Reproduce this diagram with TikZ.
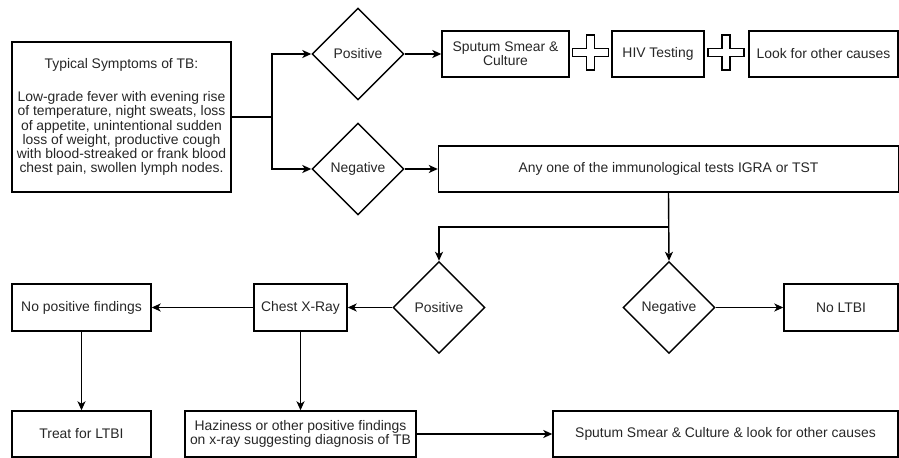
\documentclass[tikz,border=0pt]{standalone}
\usepackage{fontspec}
\setmainfont{Liberation Sans}
\usetikzlibrary{shapes.geometric,arrows.meta}
\tikzset{
  every node/.style={font=\fontsize{13.9bp}{14.3bp}\selectfont, text=black!85},
  box/.style={draw, line width=1.4bp, inner sep=1bp, align=center},
  dia/.style={draw, diamond, line width=1.4bp, inner sep=0pt, minimum width=92bp, minimum height=92bp, aspect=1},
  arr/.style={draw, line width=1.4bp, -{Stealth[length=9bp,width=8bp,inset=2.5bp]}},
  ln/.style={draw, line width=1.4bp},
  plusbox/.style={draw, line width=1.3bp}
}
\newcommand{\plusmark}[2]{%
  \draw[plusbox] (#1-18,#2-4) -- (#1-4,#2-4) -- (#1-4,#2-17.5) -- (#1+4,#2-17.5) -- (#1+4,#2-4) -- (#1+18,#2-4)
   -- (#1+18,#2+4) -- (#1+4,#2+4) -- (#1+4,#2+17.5) -- (#1-4,#2+17.5) -- (#1-4,#2+4) -- (#1-18,#2+4) -- cycle;}
\begin{document}
\begin{tikzpicture}[x=1bp,y=-1bp]
\useasboundingbox (0,0) rectangle (899,458);
% top row
\node[box, minimum width=219bp, minimum height=150bp] (sym) at (121.5,117) {Typical Symptoms of TB:\\[19bp]Low-grade fever with evening rise\\of temperature, night sweats, loss\\of appetite, unintentional sudden\\loss of weight, productive cough\\with blood-streaked or frank blood\\chest pain, swollen lymph nodes.};
\node[dia] (pos1) at (358,54) {Positive};
\node[dia] (neg1) at (358,169) {Negative};
\node[box, minimum width=127bp, minimum height=46bp] (spu) at (505.5,54) {Sputum Smear \&\\Culture};
\node[box, minimum width=92bp, minimum height=46bp] (hiv) at (658,54) {HIV Testing};
\node[box, minimum width=149bp, minimum height=46bp] (look) at (823.5,54) {Look for other causes};
\plusmark{590.5}{52.5}
\plusmark{726}{52.5}
\node[box, minimum width=460bp, minimum height=46bp] (any) at (668.5,169) {Any one of the immunological tests IGRA or TST};
% middle row
\node[dia] (pos2) at (439,307.5) {Positive};
\node[dia] (neg2) at (669,307.5) {Negative};
\node[box, minimum width=114bp, minimum height=47bp] (noltbi) at (841,307.5) {No LTBI};
\node[box, minimum width=93bp, minimum height=47bp] (cxr) at (300.5,307.5) {Chest X-Ray};
\node[box, minimum width=139bp, minimum height=47bp] (npf) at (81.5,307.5) {No positive findings};
% bottom row
\node[box, minimum width=139bp, minimum height=46bp] (treat) at (81.5,434) {Treat for LTBI};
\node[box, minimum width=231bp, minimum height=46bp] (haz) at (300.5,434) {Haziness or other positive findings\\on x-ray suggesting diagnosis of TB};
\node[box, minimum width=345bp, minimum height=46bp] (fin) at (725.5,434) {Sputum Smear \& Culture \& look for other causes};
% connectors
\coordinate (j1) at (272,117);
\coordinate (j2) at (668.5,227);
\draw[ln] (sym.east) -- (j1);
\draw[arr] (j1) |- (pos1.west);
\draw[arr] (j1) |- (neg1.west);
\draw[arr] (pos1.east) -- (spu.west);
\draw[arr] (neg1.east) -- (any.west);
\draw[arr] (any.south) -- (neg2.north);
\draw[arr] (j2) -| (pos2.north);
\draw[arr] (neg2.east) -- (noltbi.west);
\draw[arr] (pos2.west) -- (cxr.east);
\draw[arr] (cxr.west) -- (npf.east);
\draw[arr] (npf.south) -- (treat.north);
\draw[arr] (cxr.south) -- (haz.north);
\draw[arr] (haz.east) -- (fin.west);
\end{tikzpicture}
\end{document}
